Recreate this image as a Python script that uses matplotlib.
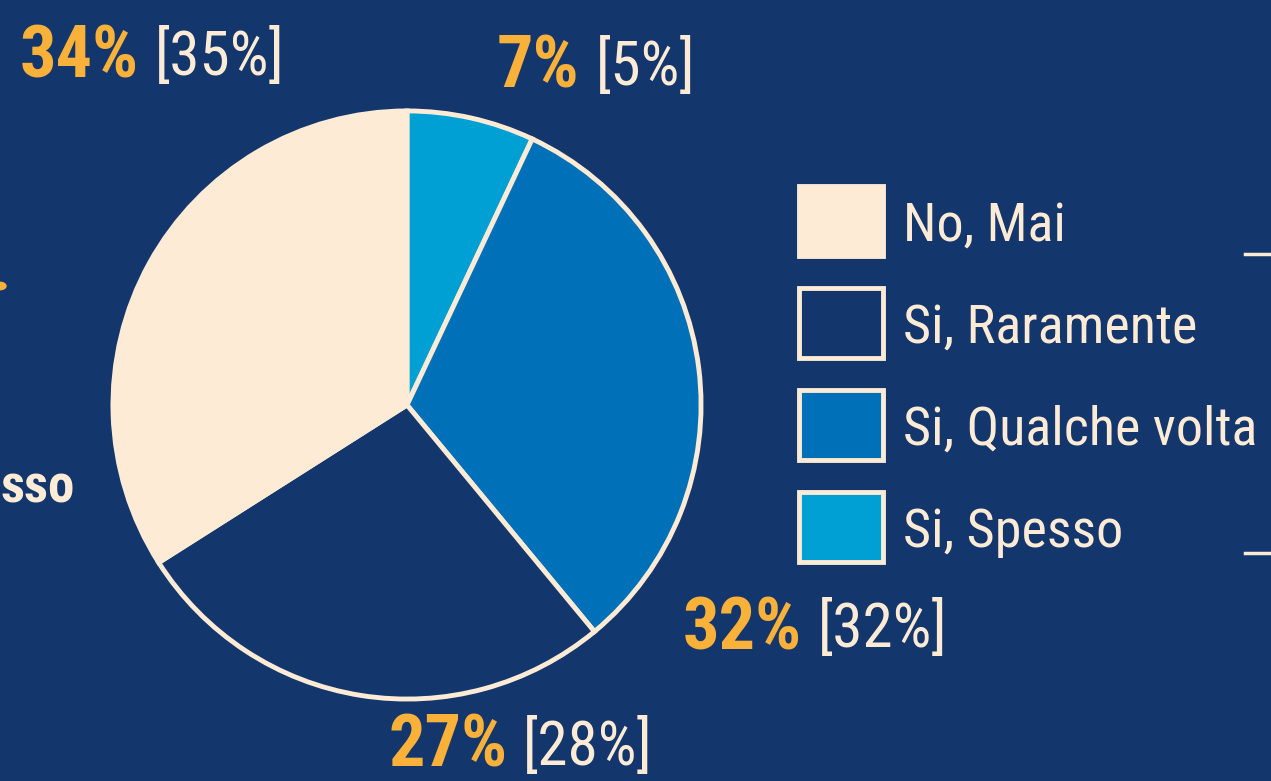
import matplotlib
matplotlib.use("Agg")
import matplotlib.pyplot as plt
from matplotlib import font_manager
from matplotlib.patches import Rectangle, Circle

# Données
categories = ["No, Mai", "Si, Raramente", "Si, Qualche volta", "Si, Spesso"]
values = [34, 27, 32, 7]
previous = [35, 28, 32, 5]
colors = ["#fdebd5", "#13366c", "#0070b8", "#00a0d5"]

BG = "#13366c"
CREAM = "#fdebd5"
ORANGE = "#f9b13a"

# police condensée si disponible
font = "DejaVu Sans"
for name in ["Roboto Condensed", "Liberation Sans Narrow", "Open Sans Condensed", "Noto Sans"]:
    try:
        font_manager.findfont(name, fallback_to_default=False)
        font = name
        break
    except Exception:
        pass
plt.rcParams['font.family'] = [font, 'DejaVu Sans']

W, H = 1271, 781
fig = plt.figure(figsize=(W / 100, H / 100), dpi=100, facecolor=BG)

def fx(x):
    return x / W

def fy(y):
    return 1 - y / H

# camembert : ordre horaire depuis le haut -> Spesso, Qualche volta, Raramente, Mai
cx, cy, r = 407, 405, 297
ax = fig.add_axes([fx(cx - r), fy(cy + r), 2 * r / W, 2 * r / H])
order = [3, 2, 1, 0]
ax.pie([values[i] for i in order], colors=[colors[i] for i in order],
       startangle=90, counterclock=False, radius=1,
       wedgeprops=dict(edgecolor=CREAM, linewidth=3.5))
ax.set_xlim(-1.01, 1.01)
ax.set_ylim(-1.01, 1.01)
ax.set_aspect('equal')
ax.axis('off')

# étiquettes des pourcentages
label_pos = {0: (20, 58), 1: (388, 747), 2: (683, 630), 3: (497, 68)}
for i, (x, y) in label_pos.items():
    t = fig.text(fx(x), fy(y), f"{values[i]}%", color=ORANGE, fontsize=52,
                 fontweight='bold', ha='left', va='center')
    fig.canvas.draw()
    bb = t.get_window_extent()
    fig.text(fx(bb.x1 + 16), fy(y), f"[{previous[i]}%]", color=CREAM,
             fontsize=44, ha='left', va='center')

# légende
for k, cat in enumerate(categories):
    y0 = 186 + k * 102
    fig.patches.append(Rectangle((fx(799), fy(y0 + 70)), 84 / W, 70 / H,
                                 transform=fig.transFigure, facecolor=colors[k],
                                 edgecolor=CREAM, linewidth=3.5))
    fig.text(fx(903), fy(y0 + 40), cat, color=CREAM, fontsize=39,
             ha='left', va='center')

# accolade à droite (coupée)
fig.add_artist(plt.Line2D([fx(1245), fx(1271)], [fy(254), fy(254)],
                          transform=fig.transFigure, color=CREAM, lw=2.5))
fig.add_artist(plt.Line2D([fx(1245), fx(1271)], [fy(553), fy(553)],
                          transform=fig.transFigure, color=CREAM, lw=2.5))

# éléments coupés à gauche
fig.patches.append(Circle((fx(0), fy(286)), 6 / W, transform=fig.transFigure,
                          color=ORANGE))
fig.text(fx(1), fy(488), "sso", color=CREAM, fontsize=38,
         fontweight='bold', ha='left', va='center')

fig.savefig("out.png", dpi=100, facecolor=BG)
